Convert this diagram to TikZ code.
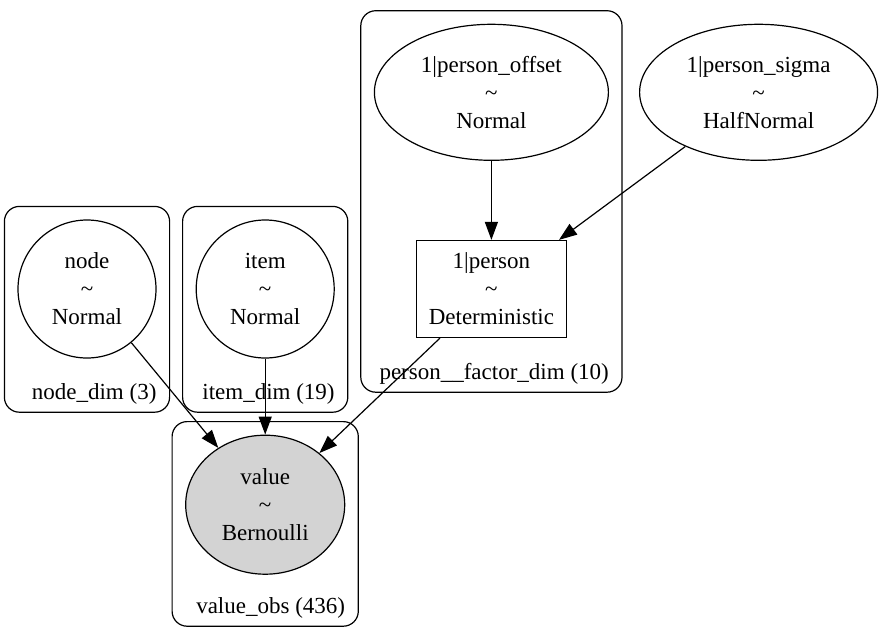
\documentclass[tikz,border=0pt]{standalone}
\usepackage{fontspec}
\setmainfont{Liberation Serif}
\usetikzlibrary{positioning,arrows.meta,fit,shapes.geometric}
\definecolor{obsgray}{HTML}{D3D3D3}
\tikzset{
  rv/.style={ellipse,draw,line width=1.2pt,inner sep=0pt,align=center},
  rvc/.style={circle,draw,line width=1.2pt,inner sep=0pt,minimum size=138pt,align=center},
  det/.style={rectangle,draw,line width=1.2pt,inner sep=0pt,minimum width=150pt,minimum height=97pt,align=center},
  obs/.style={rv,fill=obsgray},
  plate/.style={draw,rounded corners=15pt,line width=1.2pt,inner sep=13pt},
  platelbl/.style={anchor=base east,inner sep=0pt,text depth=0pt},
  edge/.style={-{Triangle[length=18pt,width=13pt]},line width=1.2pt},
}

\begin{document}
\begin{tikzpicture}[x=1pt,y=-1pt,font=\fontsize{23}{28}\selectfont]
  \useasboundingbox (0,0) rectangle (879,630);
  \node[rvc] (node) at (87,289) {node\\\textasciitilde\\Normal};
  \node[rvc] (item) [right=39pt of node] {item\\\textasciitilde\\Normal};
  \node[det] (person) [right=81pt of item] {1|person\\\textasciitilde\\Deterministic};
  \node[rv,minimum width=234pt,minimum height=136pt] (offset) [above=79pt of person] {1|person\_offset\\\textasciitilde\\Normal};
  \node[rv,minimum width=238pt,minimum height=136pt] (sigma) [right=30pt of offset] {1|person\_sigma\\\textasciitilde\\HalfNormal};
  \node[obs,minimum width=159pt,minimum height=139pt] (value) [below=76pt of item] {value\\\textasciitilde\\Bernoulli};

  \node[platelbl] (nodedim) at (node.east |- 0,399) {node\_dim (3)};
  \node[platelbl] (itemdim) at (item.east |- 0,399) {item\_dim (19)};
  \node[platelbl] (persondim) at (offset.east |- 0,379) {person\_\_factor\_dim (10)};
  \node[platelbl] (valueobs) at (value.east |- 0,613) {value\_obs (436)};

  \node[plate,fit=(node)(nodedim)] (nodeplate) {};
  \node[plate,fit=(item)(itemdim)] (itemplate) {};
  \node[plate,fit=(offset)(person)(persondim)] (personplate) {};
  \node[plate,fit=(value)(valueobs)] (valueplate) {};

  \draw[edge] (offset) -- (person);
  \draw[edge] (sigma) -- (person.36);
  \draw[edge] (node) -- (value);
  \draw[edge] (item) -- (value);
  \draw[edge] (person) -- (value);
\end{tikzpicture}
\end{document}
